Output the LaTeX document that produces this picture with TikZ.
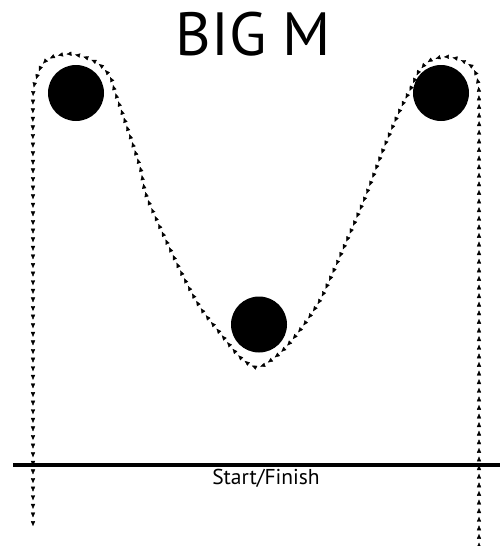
\documentclass[tikz,border=0pt]{standalone}
\usepackage{fontspec}
\setmainfont{PT Sans}
\usetikzlibrary{arrows.meta,decorations.markings}
\tikzset{
  ball/.style={circle, fill=black, minimum size=56pt, inner sep=0pt},
  trackline/.style={line width=4pt},
  arrowpath/.style={decoration={markings,
      mark=between positions 0.002 and 1 step 8.6pt with {\arrow{Triangle[length=5pt,width=4.2pt]}}},
      postaction={decorate}},
}
\begin{document}
\begin{tikzpicture}[x=1pt,y=-1pt]
\useasboundingbox (0,0) rectangle (500,546);
\node[ball] (L) at (76,93) {};
\node[ball] (R) at (441,93) {};
\node[ball] (C) at (259,324.5) {};
\node[anchor=base, font=\fontsize{61}{61}\selectfont, inner sep=0pt] (title) at (253.5,55) {BIG M};
\coordinate (s) at (13,464.5);
\coordinate (e) at (500,464.5);
\draw[trackline] (s) -- (e);
\node[anchor=base, font=\fontsize{21.5}{21.5}\selectfont, inner sep=0pt] (sf) at (266,484) {Start/Finish};
\path[arrowpath] plot[smooth, tension=0.5] coordinates {
 (479,546) (479,420) (479,300) (479,180) (479,100) (477.5,80) (472,67) (458,59) (443,57)
 (428,62) (418,73) (410,90) (400,110) (385,145) (364,200) (337,263) (320,300) (300,330)
 (280,353) (258,367) (240,357) (220,333) (200,307) (180,270) (148,200) (140,167) (127,127)
 (116,95) (110,77) (100,65) (87,58) (70,54) (53,57) (42,65) (35,83) (33,100) (33,180)
 (33,300) (33,420) (33,530)};
\end{tikzpicture}
\end{document}
